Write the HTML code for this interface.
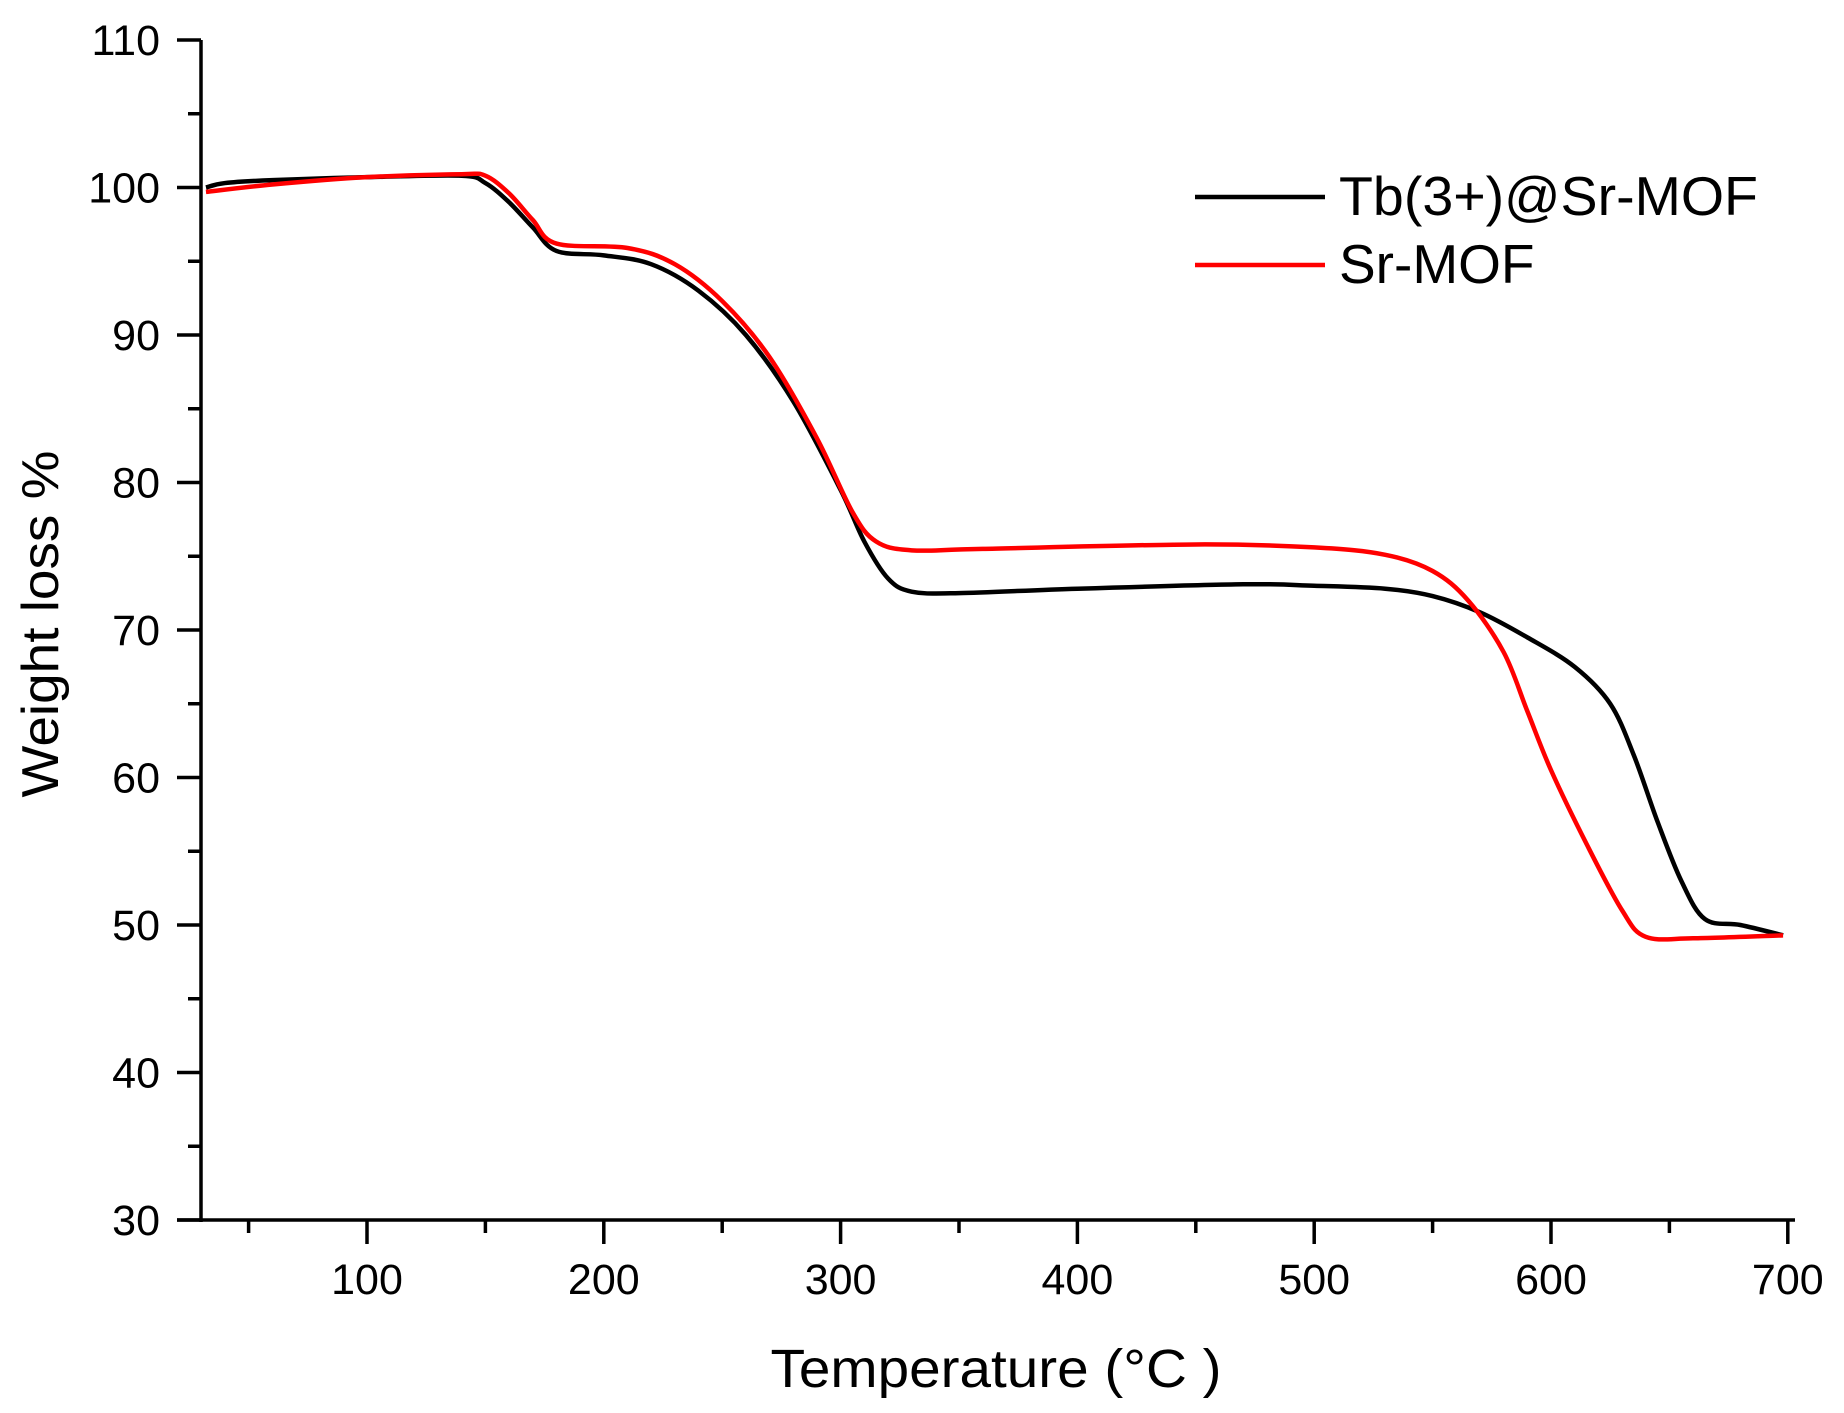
<!DOCTYPE html>
<html><head><meta charset="utf-8"><style>
html,body{margin:0;padding:0;background:#fff;}
svg{display:block;font-family:"Liberation Sans",Arial,sans-serif;}
</style></head><body>
<svg id="s" width="1844" height="1413" viewBox="0 0 1844 1413" xmlns="http://www.w3.org/2000/svg">
<g id="ax" stroke="#000" stroke-width="3.5" fill="none"></g>
<g id="lbl" font-size="43" fill="#000"></g>
<path id="blk" fill="none" stroke="#000" stroke-width="4.5" stroke-linejoin="round"/>
<path id="red" fill="none" stroke="#ff0000" stroke-width="4.5" stroke-linejoin="round"/>
<line x1="1195" y1="197" x2="1325" y2="197" stroke="#000" stroke-width="4.5"/>
<line x1="1195" y1="265" x2="1325" y2="265" stroke="#ff0000" stroke-width="4.5"/>
<text x="1339" y="215" font-size="55" textLength="419" lengthAdjust="spacingAndGlyphs">Tb(3+)@Sr-MOF</text>
<text x="1339" y="283" font-size="55">Sr-MOF</text>
<text x="996" y="1387" font-size="54" text-anchor="middle" textLength="451" lengthAdjust="spacingAndGlyphs">Temperature (°C )</text>
<text transform="translate(58,624) rotate(-90)" font-size="52" text-anchor="middle" textLength="347" lengthAdjust="spacingAndGlyphs">Weight loss %</text>
</svg>
<script>
var X=function(t){return 367+(t-100)*2.368;},Y=function(v){return 1220-(v-30)*14.75;};
var ax=document.getElementById('ax'),lb=document.getElementById('lbl'),NS="http://www.w3.org/2000/svg";
function ln(a,b,c,d){var l=document.createElementNS(NS,'line');l.setAttribute('x1',a);l.setAttribute('y1',b);l.setAttribute('x2',c);l.setAttribute('y2',d);ax.appendChild(l);}
function tx(x,y,s,anc){var t=document.createElementNS(NS,'text');t.setAttribute('x',x);t.setAttribute('y',y);t.setAttribute('text-anchor',anc);t.textContent=s;lb.appendChild(t);}
ln(201,Y(110),201,1222);ln(177,1220,1795,1220);
for(var v=30;v<=110;v+=5){var maj=v%10==0;ln(maj?177:188,Y(v),201,Y(v));if(maj)tx(160,Y(v)+15,v,'end');}
for(var t=50;t<=700;t+=50){var maj=t%100==0;ln(X(t),1220,X(t),maj?1244:1233);if(maj)tx(X(t),1294,t,'middle');}
function path(d){var p=d.map(function(q){return[X(q[0]),Y(q[1])]});var s="M"+p[0][0]+","+p[0][1];
for(var i=0;i<p.length-1;i++){var p0=p[i-1]||p[i],p1=p[i],p2=p[i+1],p3=p[i+2]||p2;
s+=" C"+(p1[0]+(p2[0]-p0[0])/6)+","+(p1[1]+(p2[1]-p0[1])/6)+" "+(p2[0]-(p3[0]-p1[0])/6)+","+(p2[1]-(p3[1]-p1[1])/6)+" "+p2[0]+","+p2[1];}return s;}
var B=[[32,100.0],[40,100.3],[60,100.5],[100,100.7],[140,100.8],[150,100.3],[160,99],[170,97.3],[180,95.7],[200,95.4],[220,94.8],[240,93],[260,90],[280,85.5],[300,79.5],[310,76],[320,73.5],[330,72.6],[350,72.5],[400,72.8],[470,73.1],[500,73.0],[530,72.8],[550,72.3],[570,71.2],[590,69.5],[610,67.5],[625,65],[635,61.5],[645,57],[655,53],[665,50.4],[680,50],[698,49.3]];
var R=[[32,99.7],[60,100.2],[100,100.7],[140,100.9],[150,100.8],[160,99.6],[170,97.8],[180,96.2],[210,95.9],[230,94.8],[250,92.3],[270,88.5],[290,83],[305,78],[315,76],[330,75.4],[360,75.5],[450,75.8],[500,75.6],[530,75.1],[550,74],[565,72],[580,68.5],[590,64.5],[600,60.5],[615,55.5],[630,51],[640,49.2],[660,49.1],[698,49.3]];
document.getElementById('blk').setAttribute('d',path(B));
document.getElementById('red').setAttribute('d',path(R));
</script>
</body></html>
